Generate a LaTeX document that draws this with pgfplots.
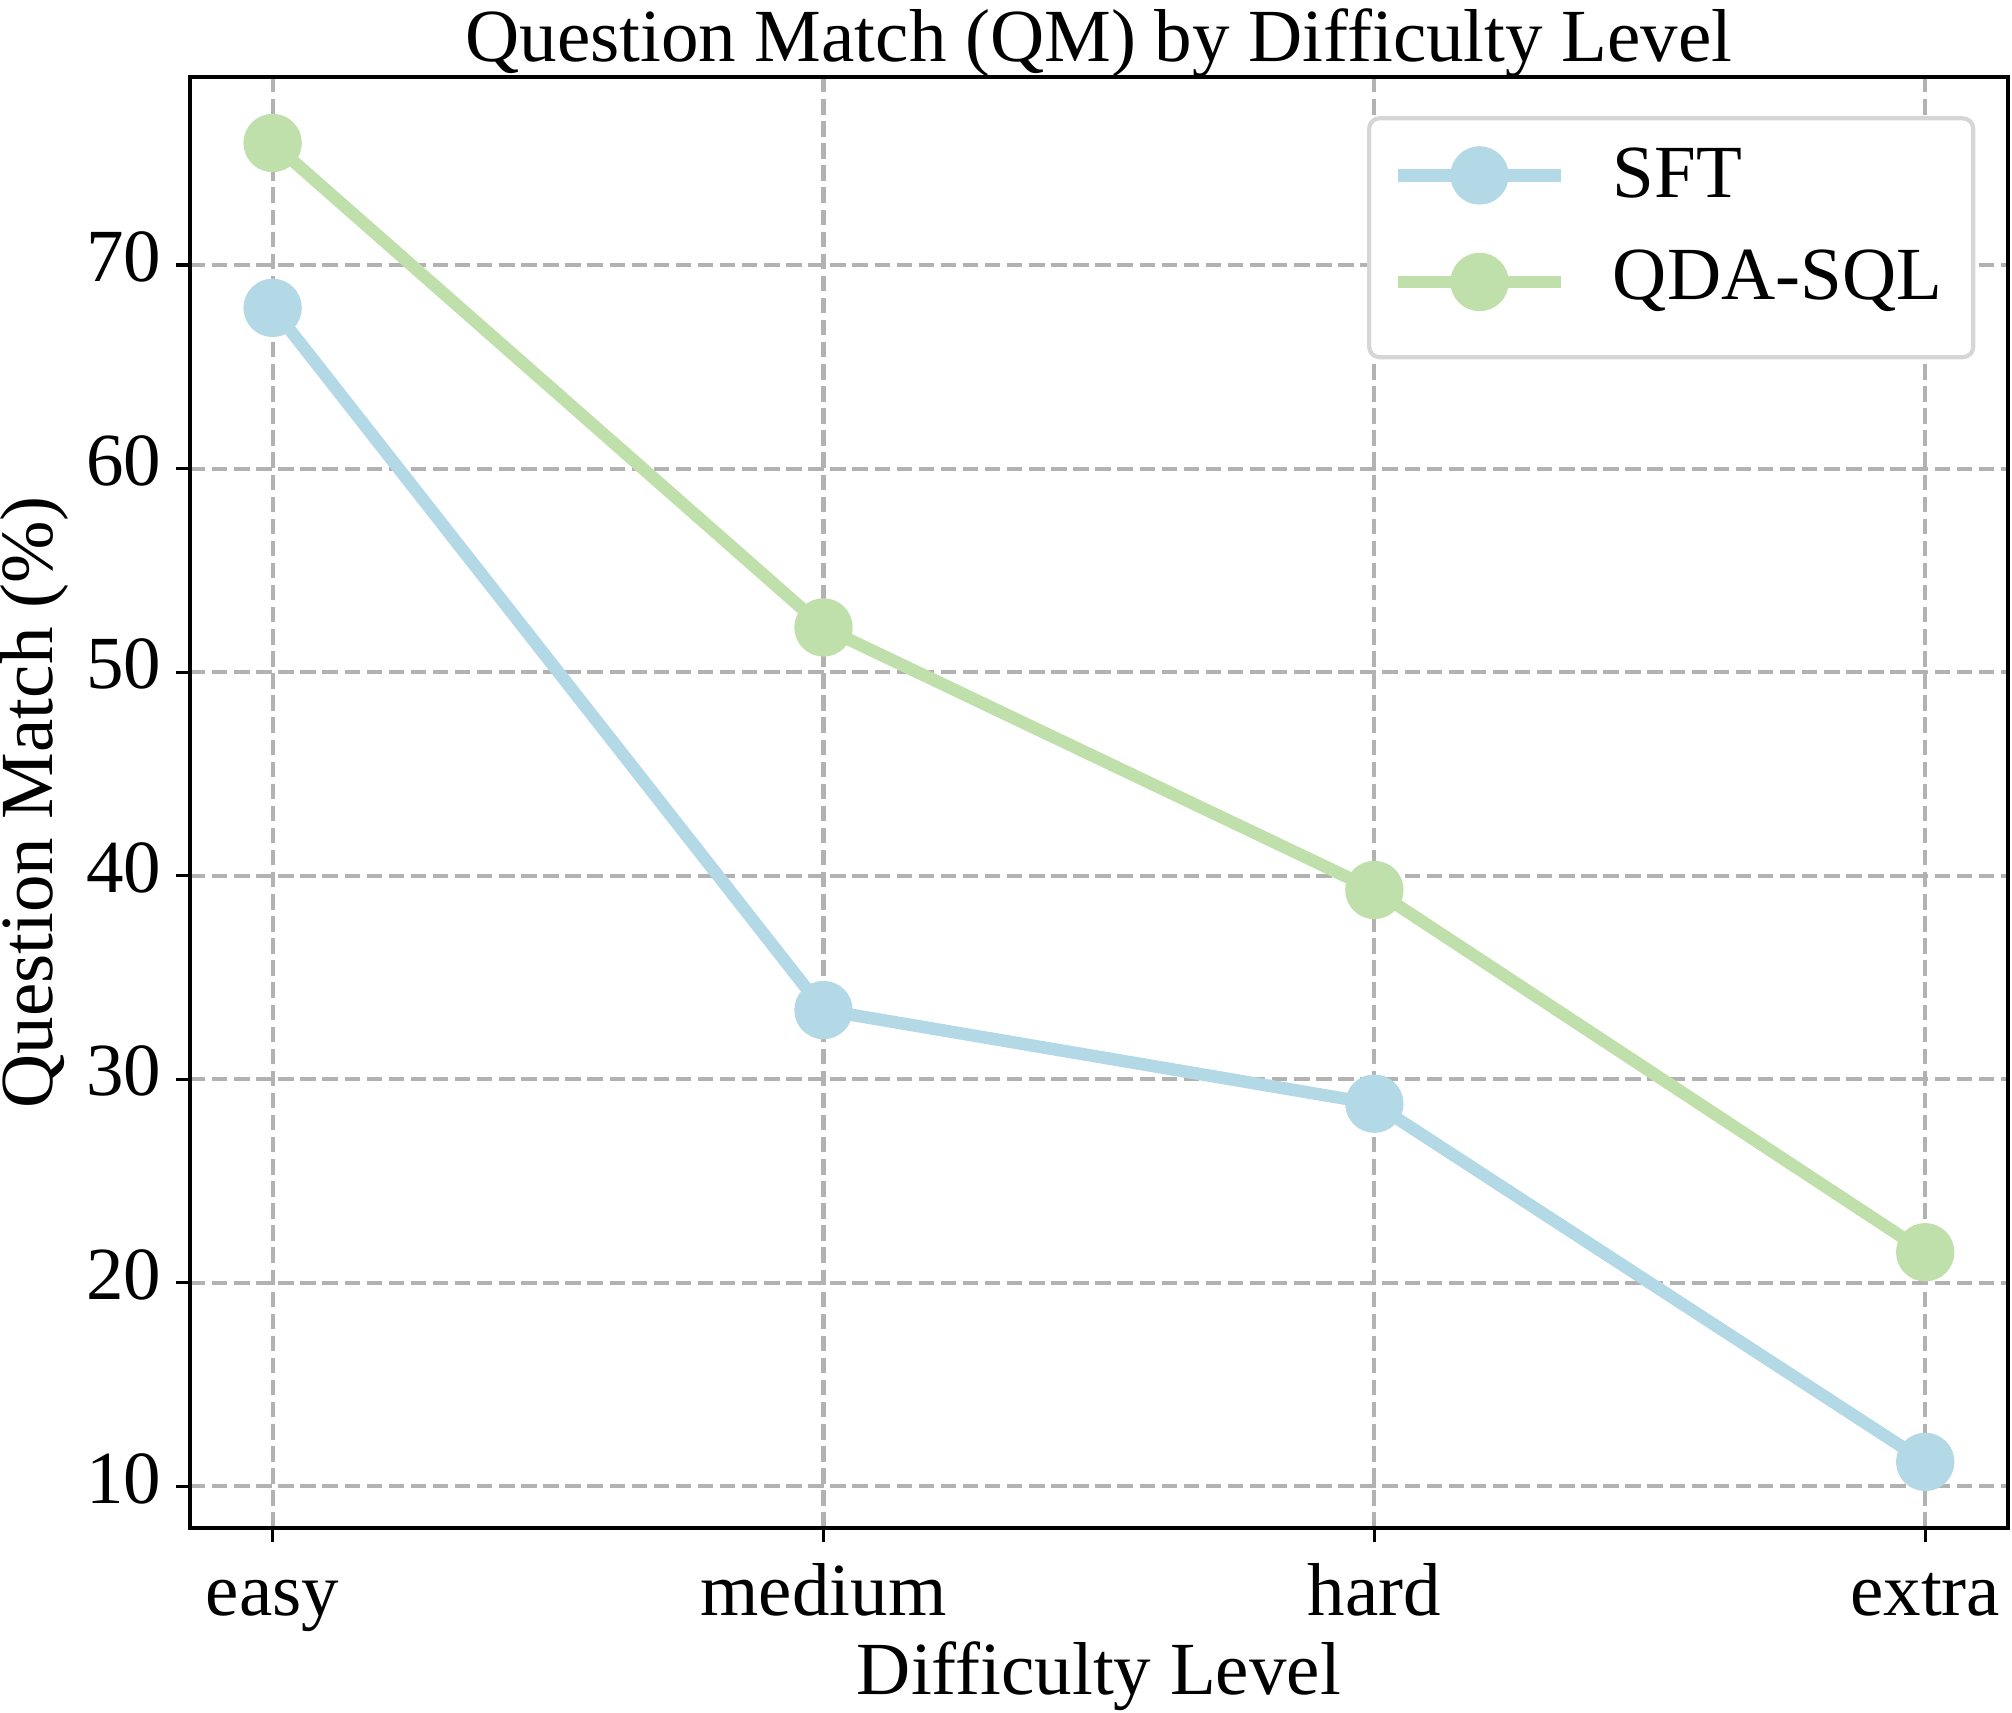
\documentclass[border=0pt]{standalone}
\usepackage{pgfplots}
\pgfplotsset{compat=1.18}
\usepackage{fontspec}
\setmainfont{Liberation Serif}

\definecolor{sftblue}{RGB}{179,216,230}
\definecolor{qdagreen}{RGB}{191,224,170}
\definecolor{gridgray}{RGB}{178,178,178}
\definecolor{legendframe}{RGB}{214,214,214}

\begin{document}
\begin{tikzpicture}
\begin{axis}[
  scale only axis,
  width=436.3pt, height=348.2pt,
  xmin=-0.15, xmax=3.15,
  ymin=7.96, ymax=79.24,
  xtick={0,1,2,3},
  xticklabels={easy,medium,hard,extra},
  ytick={10,20,30,40,50,60,70},
  /pgf/number format/assume math mode=true,
  typeset ticklabels with strut,
  tick label style={font=\fontsize{18}{20}\selectfont},
  tick align=outside,
  major tick length=3.4pt,
  tick style={black, line width=0.8pt},
  xtick pos=bottom, ytick pos=left,
  axis line style={line width=0.8pt},
  grid=major,
  major grid style={gridgray, line width=1pt, dash pattern=on 3.7pt off 1.6pt},
  xlabel={Difficulty Level},
  ylabel={Question Match (\%)},
  label style={font=\fontsize{18}{20}\selectfont, inner sep=0pt},
  xlabel style={at={(axis description cs:0.5,0)}, anchor=base, yshift=-40.1pt},
  ylabel style={at={(axis description cs:-0.0754,0.5)}, anchor=base},
  title={Question Match (QM) by Difficulty Level},
  title style={font=\fontsize{18}{20}\selectfont, inner sep=0pt,
    at={(axis description cs:0.5,1)}, anchor=base, yshift=-2.3pt},
  legend style={at={(1,1)}, anchor=north east, xshift=-7.8pt, yshift=-9.4pt,
    draw=legendframe, line width=1pt, rounded corners=2.5pt,
    font=\fontsize{18}{20}\selectfont,
    inner xsep=5.5pt, inner ysep=5pt,
    row sep=7.2pt},
  legend cell align=left,
  legend image code/.code={
    \draw[#1, mark repeat=2, mark phase=2] plot coordinates {(0pt,0pt) (19.5pt,0pt) (39pt,0pt)};
  },
]
\addplot[sftblue, line width=3pt, mark=*, mark size=5.5pt,
  mark options={fill=sftblue, draw=none}]
  coordinates {(0,67.9) (1,33.4) (2,28.8) (3,11.2)};
\addlegendentry{\hspace{9pt}SFT}
\addplot[qdagreen, line width=3pt, mark=*, mark size=5.5pt,
  mark options={fill=qdagreen, draw=none},
  legend image post style={yshift=1.7pt}]
  coordinates {(0,76.0) (1,52.2) (2,39.3) (3,21.5)};
\addlegendentry[text depth=6.8pt]{\hspace{9pt}QDA-SQL}
\end{axis}
% page frame around the axis box and its labels
\pgfresetboundingbox
\path ([xshift=-45.6pt,yshift=-44.2pt]current axis.south west)
  rectangle ([xshift=1pt,yshift=18.5pt]current axis.north east);
\end{tikzpicture}
\end{document}
